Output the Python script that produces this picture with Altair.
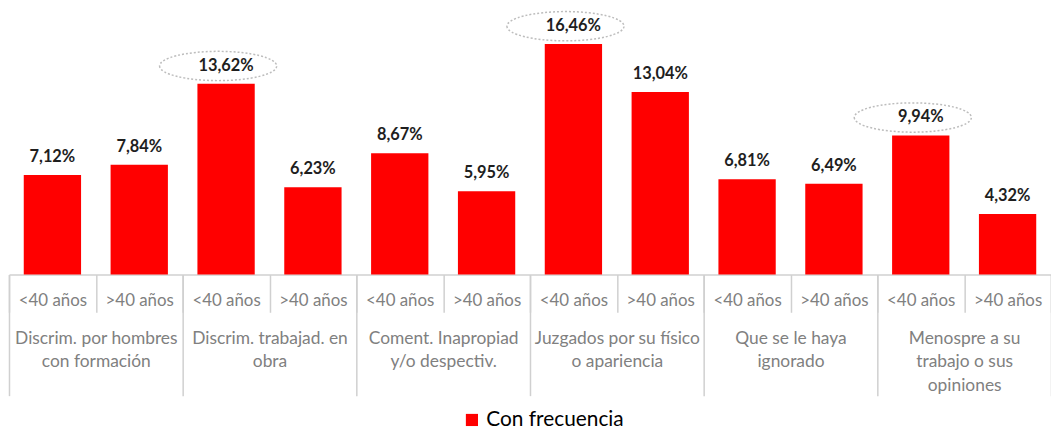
import altair as alt
import pandas as pd

groups = [
    "Discrim. por hombres|con formación",
    "Discrim. trabajad. en|obra",
    "Coment. Inapropiad|y/o despectiv.",
    "Juzgados por su físico|o apariencia",
    "Que se le haya|ignorado",
    "Menospre a su|trabajo o sus|opiniones",
]
ages = ["<40 años", ">40 años"]
values = [7.12, 7.84, 13.62, 6.23, 8.67, 5.95, 16.46, 13.04, 6.81, 6.49, 9.94, 4.32]
highlighted = [False, False, True, False, False, False, True, False, False, False, True, False]
series_name = "Con frecuencia"

rows = []
i = 0
for g in groups:
    for a in ages:
        v = values[i]
        rows.append({
            "key": f"{g}#{a}",
            "grupo": g,
            "edad": a,
            "valor": v,
            "etiqueta": f"{v:.2f}%".replace(".", ","),
            "destacado": highlighted[i],
            "serie": series_name,
        })
        i += 1
df = pd.DataFrame(rows)
keys = list(df["key"])
df_groups = pd.DataFrame({"grupo": groups})

GRID = "#d0d0d0"
LABEL = "#808080"
FONT = "Lato"

x_key = alt.X(
    "key:N", sort=keys,
    scale=alt.Scale(type="band", paddingInner=0, paddingOuter=0),
    axis=alt.Axis(
        title=None, orient="bottom", labelExpr="split(datum.label, '#')[1]",
        domainColor=GRID, domainWidth=1.5, tickColor=GRID, tickWidth=1.5,
        tickBand="extent", tickSize=38, labelPadding=-12, labelBaseline="middle",
        labelFontSize=17, labelColor=LABEL, labelFont=FONT, labelAngle=0,
        labelOverlap=False,
    ),
)
y = alt.Y("valor:Q", scale=alt.Scale(domain=[0, 18]), axis=None)

base = alt.Chart(df)

bars = base.mark_bar(width=alt.RelativeBandSize(0.66)).encode(
    x=x_key, y=y,
    color=alt.Color(
        "serie:N", scale=alt.Scale(range=["#ff0000"]),
        legend=alt.Legend(
            title=None, orient="none", legendX=456, legendY=390,
            symbolType="square", symbolSize=150, symbolStrokeWidth=0,
            labelFontSize=21, labelFont=FONT, labelColor="#000000",
        ),
    ),
)

labels = base.mark_text(
    font=FONT, fontSize=16.5, fontWeight="bold", color="#1e1e1e",
    baseline="middle", dy=-18,
).encode(x=x_key, y=y, text="etiqueta:N")

ellipse_path = "M-1,0 A1,0.25,0,1,0,1,0 A1,0.25,0,1,0,-1,0 Z"
ellipses = base.transform_filter("datum.destacado").mark_point(
    shape=ellipse_path, size=118 * 118, filled=False, stroke="#bdbdbd",
    strokeWidth=1.5, strokeDash=[2, 2], xOffset=-8, yOffset=-18, opacity=1,
).encode(x=x_key, y=y)

main = alt.layer(bars, labels, ellipses)

grp = alt.Chart(df_groups).mark_point(opacity=0).encode(
    x=alt.X(
        "grupo:N", sort=groups,
        scale=alt.Scale(type="band", paddingInner=0, paddingOuter=0),
        axis=alt.Axis(
            title=None, orient="bottom", domain=False,
            labelExpr="split(datum.label, '|')",
            tickColor=GRID, tickWidth=1.5, tickBand="extent", tickSize=122,
            labelPadding=-67, labelBaseline="top", labelLineHeight=24,
            labelFontSize=17.5, labelColor=LABEL, labelFont=FONT, labelAngle=0,
            labelOverlap=False,
        ),
    )
)

chart = alt.layer(main, grp).resolve_scale(x="independent").properties(
    width=1050, height=254,
    padding={"left": 1, "top": 13, "right": 0, "bottom": 157},
    autosize=alt.AutoSizeParams(type="none"),
).configure_view(stroke=None)

chart.save("out.html", embed_options={"renderer": "svg", "actions": False})
